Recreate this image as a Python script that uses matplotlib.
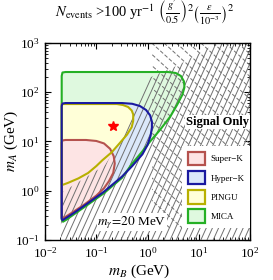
import matplotlib
matplotlib.use('Agg')
import matplotlib.pyplot as plt
import numpy as np
from matplotlib.patches import Polygon, Patch
from matplotlib.collections import LineCollection
from matplotlib.ticker import LogLocator, NullFormatter

plt.rcParams['font.family'] = 'serif'
plt.rcParams['font.serif'] = ['Liberation Serif', 'DejaVu Serif']
plt.rcParams['mathtext.fontset'] = 'stix'

# contour outlines as log10(m_B/GeV), log10(m_A/GeV)
sk_lb = [-1.675, -1.675, -1.66, -1.6, -1.2, -1.0, -0.85, -0.73, -0.66, -0.64, -0.67, -0.75, -0.85, -1.0, -1.22, -1.45, -1.6, -1.66]
sk_la = [-0.55, 0.98, 1.02, 1.03, 1.03, 1.01, 0.96, 0.85, 0.70, 0.55, 0.36, 0.20, 0.05, -0.10, -0.27, -0.43, -0.53, -0.56]

hk_lb = [-1.675, -1.675, -1.66, -1.6, -0.5, -0.3, -0.15, -0.03, 0.05, 0.085, 0.085, 0.06, 0.0, -0.1, -0.3, -0.5, -0.85, -1.16, -1.45, -1.6, -1.66]
hk_la = [-0.57, 1.72, 1.77, 1.78, 1.78, 1.765, 1.72, 1.64, 1.53, 1.40, 1.28, 1.12, 0.93, 0.74, 0.50, 0.285, -0.02, -0.25, -0.46, -0.56, -0.60]

pingu_lb = [-1.675, -1.675, -0.6, -0.48, -0.38, -0.31, -0.28, -0.28, -0.31, -0.4, -0.54, -0.7, -0.88, -1.0, -1.16, -1.35, -1.55, -1.64]
pingu_la = [0.12, 1.76, 1.76, 1.74, 1.70, 1.63, 1.55, 1.42, 1.29, 1.14, 0.97, 0.78, 0.62, 0.50, 0.36, 0.25, 0.16, 0.125]

mica_lb = [-1.675, -1.675, -1.66, -1.6, 0.4, 0.55, 0.65, 0.71, 0.72, 0.68, 0.58, 0.44, 0.24, 0.05, -0.1, -0.3, -0.5, -0.85, -1.16, -1.45, -1.6, -1.65]
mica_la = [-0.58, 2.33, 2.40, 2.41, 2.41, 2.39, 2.33, 2.22, 2.10, 1.95, 1.75, 1.50, 1.23, 1.00, 0.80, 0.55, 0.26, -0.05, -0.28, -0.49, -0.60, -0.63]

# excluded regions (hatched)
kin_lb = [-1.69, -1.69, -0.83, -0.48, -0.1, 0.05, 0.6, 1.35, 2.0, 2.0]
kin_la = [-1.0, -0.05, 0.52, 1.09, 1.95, 2.30, 2.55, 3.0, 3.0, -1.0]
dash_lb = [0.08, 0.08, 2.0, 2.0]
dash_la = [-0.75, 3.0, 3.0, -0.75]

star_mb = 0.21
star_ma = 21.0

names = ['Super\u2212K', 'Hyper\u2212K', 'PINGU', 'MICA']
fills = ['#fde4e4', '#dbe8fa', '#ffffd8', '#dff9df']
edges = ['#b5524e', '#1a1aa0', '#b8b000', '#25b025']
outlines = [(sk_lb, sk_la), (hk_lb, hk_la), (pingu_lb, pingu_la), (mica_lb, mica_la)]


def to_xy(lb, la):
    return np.column_stack([10 ** np.array(lb), 10 ** np.array(la)])


def hatch(ax, lb, la, slope, step, **kw):
    clip = Polygon(to_xy(lb, la), closed=True, fc='none', ec='none')
    ax.add_patch(clip)
    segs = []
    for c in np.arange(-2, 3, step):
        if slope > 0:
            segs.append([(c, 0), (c + 1 / slope, 1)])
        else:
            segs.append([(c, 1), (c - 1 / slope, 0)])
    lc = LineCollection(segs, transform=ax.transAxes, **kw)
    lc.set_clip_path(clip)
    ax.add_collection(lc, autolim=False)


fig = plt.figure(figsize=(2.73, 2.80), dpi=100)
ax = fig.add_axes([0.165, 0.143, 0.751, 0.7036])
ax.set_xscale('log')
ax.set_yscale('log')

# fills: MICA at the back, Super-K on top
for i in [3, 1, 2, 0]:
    ax.add_patch(Polygon(to_xy(*outlines[i]), closed=True, fc=fills[i], ec='none', zorder=1))

hatch(ax, kin_lb, kin_la, 2.3, 0.03, colors='#707070', linewidths=0.7, zorder=2)
hatch(ax, dash_lb, dash_la, -0.95, 0.06, colors='#707070', linewidths=0.7,
      linestyles=[(0, (4, 2))], zorder=2)

for i in [3, 0, 2, 1]:
    ax.add_patch(Polygon(to_xy(*outlines[i]), closed=True, fc='none', ec=edges[i],
                         lw=1.5, joinstyle='round', zorder=3))

ax.plot([star_mb], [star_ma], marker='*', color='red', ms=7, mec='red', zorder=4)

ax.set_xlim(1e-2, 1e2)
ax.set_ylim(1e-1, 1e3)

handles = [Patch(fc=f, ec=e, lw=1.6, label=n) for n, f, e in zip(names, fills, edges)]
ax.legend(handles=handles, loc='upper left', bbox_to_anchor=(0.67, 0.475), fontsize=6.5,
          handlelength=1.9, handleheight=1.9, labelspacing=0.65, handletextpad=0.6,
          borderpad=0.6, borderaxespad=0, frameon=True, fancybox=False, framealpha=1,
          edgecolor='none', facecolor='white')

ax.text(0.995, 0.60, 'Signal Only', transform=ax.transAxes, ha='right', va='center',
        fontsize=9, fontweight='bold', zorder=7,
        bbox=dict(fc='white', ec='none', pad=0.5))
ax.text(0.255, 0.09, r'$m_{\gamma}\!=\!20$ MeV', transform=ax.transAxes, ha='left', va='center',
        fontsize=9.5, zorder=7, bbox=dict(fc='white', ec='none', pad=0.5))

ax.xaxis.set_minor_locator(LogLocator(base=10, subs=np.arange(2, 10), numticks=20))
ax.yaxis.set_minor_locator(LogLocator(base=10, subs=np.arange(2, 10), numticks=20))
ax.xaxis.set_minor_formatter(NullFormatter())
ax.yaxis.set_minor_formatter(NullFormatter())
ax.tick_params(which='both', direction='in', top=True, right=True, labelsize=9.5)
ax.tick_params(which='major', length=4, width=0.8, pad=4)
ax.tick_params(which='minor', length=2, width=0.6)
for s in ax.spines.values():
    s.set_linewidth(1.0)

ax.set_xlabel(r'$m_B$ (GeV)', fontsize=11)
ax.set_ylabel(r'$m_A$ (GeV)', fontsize=11)
ax.xaxis.set_label_coords(0.46, -0.115)
ax.yaxis.set_label_coords(-0.12, 0.505)

fig.text(0.53, 0.953,
         r'$N_{\rm events}$ >100 yr$^{-1}$ $\left(\frac{g^{\prime}}{0.5}\right)^{2}\left(\frac{\epsilon}{10^{-3}}\right)^{2}$',
         ha='center', va='center', fontsize=10.5)

fig.savefig('out.png', dpi=100)
